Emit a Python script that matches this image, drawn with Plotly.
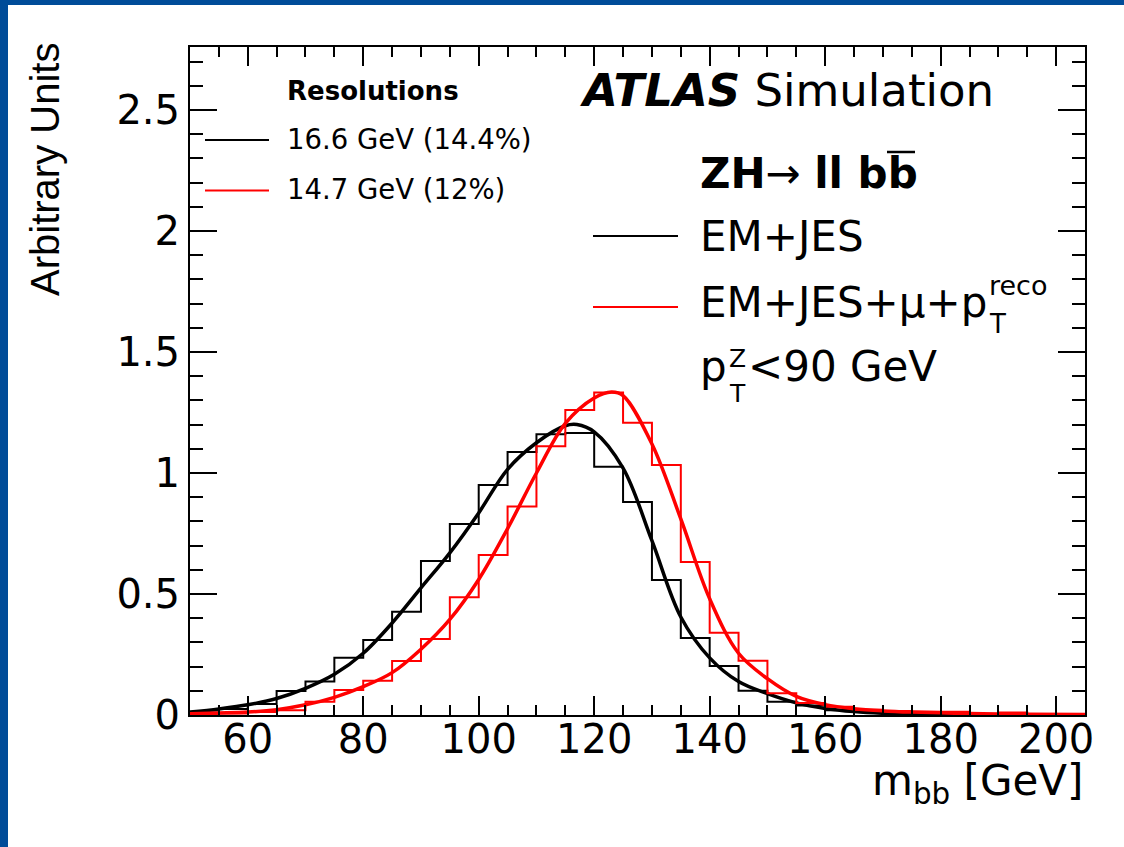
import plotly.graph_objects as go

# ---------------------------------------------------------------------------
# m_bb distributions, ZH -> ll bb, pT(Z) < 90 GeV (5 GeV bins)
# ---------------------------------------------------------------------------
bin_edges = [50, 55, 60, 65, 70, 75, 80, 85, 90, 95, 100, 105, 110, 115, 120,
             125, 130, 135, 140, 145, 150, 155, 160, 165, 170, 175, 180, 185,
             190, 195, 200, 205]

# EM+JES calibration
hist_emjes = [0.010, 0.025, 0.045, 0.099, 0.138, 0.237, 0.310, 0.427, 0.636,
              0.789, 0.950, 1.087, 1.160, 1.165, 1.026, 0.880, 0.558, 0.318,
              0.202, 0.100, 0.055, 0.039, 0.020, 0.012, 0.008, 0.005, 0.004,
              0.003, 0.002, 0.002, 0.001]

# EM+JES+mu+pT(reco) calibration
hist_mu = [0.003, 0.006, 0.012, 0.020, 0.055, 0.103, 0.142, 0.223, 0.314,
           0.486, 0.661, 0.861, 1.110, 1.260, 1.332, 1.208, 1.033, 0.632,
           0.340, 0.224, 0.090, 0.050, 0.034, 0.022, 0.017, 0.013, 0.013,
           0.004, 0.010, 0.002, 0.004]

# fitted line shapes
fit_x_emjes = [50, 55, 60, 65, 70, 75, 80, 85, 90, 95, 100, 105, 110, 115,
               117, 120, 125, 130, 135, 140, 145, 150, 155, 160, 165, 170,
               175, 180, 190, 205]
fit_y_emjes = [0.012, 0.025, 0.042, 0.068, 0.110, 0.168, 0.255, 0.380, 0.525,
               0.670, 0.835, 1.015, 1.125, 1.195, 1.200, 1.170, 1.020, 0.720,
               0.405, 0.236, 0.138, 0.088, 0.050, 0.027, 0.014, 0.007, 0.004,
               0.002, 0.001, 0.000]

fit_x_mu = [50, 55, 60, 65, 70, 75, 80, 85, 90, 95, 100, 105, 110, 115, 120,
            123, 125, 130, 135, 140, 145, 150, 155, 160, 165, 170, 175, 180,
            185, 190, 195, 205]
fit_y_mu = [0.005, 0.008, 0.012, 0.022, 0.042, 0.073, 0.117, 0.175, 0.272,
            0.395, 0.560, 0.770, 1.000, 1.205, 1.310, 1.335, 1.320, 1.120,
            0.810, 0.480, 0.255, 0.150, 0.077, 0.043, 0.026, 0.017, 0.012,
            0.009, 0.006, 0.004, 0.003, 0.002]

x_tick_vals = [60, 80, 100, 120, 140, 160, 180, 200]
x_tick_text = ["60", "80", "100", "120", "140", "160", "180", "200"]
y_tick_vals = [0, 0.5, 1, 1.5, 2, 2.5]
y_tick_text = ["0", "0.5", "1", "1.5", "2", "2.5"]

resolution_labels = ["16.6 GeV (14.4%)", "14.7 GeV (12%)"]
series_labels = ["EM+JES", "EM+JES+\u03bc+p"]

# ---------------------------------------------------------------------------
# page geometry (pixels)
# ---------------------------------------------------------------------------
W, H = 1124, 847
L, R, T, B = 190, 1085, 47, 715
FONT = "DejaVu Sans"
BLUE = "#004C99"
BLACK = "#000000"
RED = "#FF0000"


def px(x):
    return (x - L) / (R - L)


def py(y):
    return (B - y) / (B - T)


def step_xy(edges, vals):
    xs = [edges[0]] + list(edges)
    ys = [0.0] + list(vals) + [vals[-1]]
    return xs, ys


fig = go.Figure()

for vals, fx, fy, col in [(hist_emjes, fit_x_emjes, fit_y_emjes, BLACK),
                          (hist_mu, fit_x_mu, fit_y_mu, RED)]:
    sx, sy = step_xy(bin_edges, vals)
    fig.add_trace(go.Scatter(x=sx, y=sy, mode="lines",
                             line=dict(color=col, width=2, shape="hv"),
                             hoverinfo="skip", showlegend=False))
    fig.add_trace(go.Scatter(x=fx, y=fy, mode="lines",
                             line=dict(color=col, width=3.5, shape="spline",
                                       smoothing=1.0),
                             hoverinfo="skip", showlegend=False))

axis_common = dict(showline=True, linewidth=2, linecolor=BLACK, mirror="ticks",
                   ticks="inside", tickcolor=BLACK, tickwidth=1.5,
                   showgrid=False, zeroline=False,
                   tickfont=dict(family=FONT, size=40, color=BLACK))

fig.update_xaxes(range=[50, 205], tickmode="array", tickvals=x_tick_vals,
                 ticktext=x_tick_text, ticklen=19, ticklabelstandoff=-12,
                 minor=dict(tickmode="linear", tick0=0, dtick=5, ticklen=10,
                            ticks="inside", tickcolor=BLACK, tickwidth=1.5,
                            showgrid=False),
                 **axis_common)
fig.update_yaxes(range=[0, 2.76], tickmode="array", tickvals=y_tick_vals,
                 ticktext=y_tick_text, ticklen=27, ticklabelstandoff=0,
                 minor=dict(tickmode="linear", tick0=0, dtick=0.1, ticklen=13,
                            ticks="inside", tickcolor=BLACK, tickwidth=1.5,
                            showgrid=False),
                 **axis_common)

shapes = [
    # page frame
    dict(type="rect", xref="paper", yref="paper", x0=px(0), x1=px(8),
         y0=py(H), y1=py(0), fillcolor=BLUE, line=dict(width=0), layer="above"),
    dict(type="rect", xref="paper", yref="paper", x0=px(0), x1=px(W),
         y0=py(5), y1=py(0), fillcolor=BLUE, line=dict(width=0), layer="above"),
    # resolution legend lines
    dict(type="line", xref="paper", yref="paper", x0=px(205), x1=px(269),
         y0=py(140), y1=py(140), line=dict(color=BLACK, width=2)),
    dict(type="line", xref="paper", yref="paper", x0=px(205), x1=px(269),
         y0=py(190.5), y1=py(190.5), line=dict(color=RED, width=2)),
    # calibration legend lines
    dict(type="line", xref="paper", yref="paper", x0=px(593), x1=px(678),
         y0=py(236), y1=py(236), line=dict(color=BLACK, width=2)),
    dict(type="line", xref="paper", yref="paper", x0=px(593), x1=px(678),
         y0=py(307), y1=py(307), line=dict(color=RED, width=2)),
    # bar over the anti-b
    dict(type="line", xref="paper", yref="paper", x0=px(887), x1=px(915),
         y0=py(152), y1=py(152), line=dict(color=BLACK, width=2.5)),
]


def text(x, y, s, size, anchor="left", family=FONT, angle=0, yanchor="middle"):
    return dict(x=px(x), y=py(y), xref="paper", yref="paper", text=s,
                showarrow=False, xanchor=anchor, yanchor=yanchor,
                textangle=angle, font=dict(family=family, size=size, color=BLACK))


annotations = [
    text(578, 91, "<b><i>ATLAS</i></b> Simulation", 45),
    text(698, 173, "<b>ZH</b>\u2192 <b>ll bb</b>", 42),
    text(698, 237, series_labels[0], 42),
    text(698, 302, series_labels[1], 42),
    text(987, 285, "reco", 27),
    text(987, 324, "T", 26),
    text(698, 366.5, "p", 42),
    text(727, 358, "Z", 25),
    text(727, 393, "T", 25),
    text(746, 366.5, "<90 GeV", 42),
    text(285, 91.5, "<b>Resolutions</b>", 26),
    text(285, 139, resolution_labels[0], 27.5),
    text(285, 189.5, resolution_labels[1], 27.5),
    text(1085, 783, "m<sub>bb</sub> [GeV]", 42, anchor="right"),
    text(45, 170, "Arbitrary Units", 40, anchor="center",
         family="Liberation Sans", angle=-90),
]

fig.update_layout(width=W, height=H, autosize=False,
                  margin=dict(l=L, r=W - R, t=T, b=H - B, autoexpand=False),
                  paper_bgcolor="white", plot_bgcolor="white",
                  showlegend=False, shapes=shapes, annotations=annotations,
                  font=dict(family=FONT, color=BLACK))

fig.write_html("out.html")
